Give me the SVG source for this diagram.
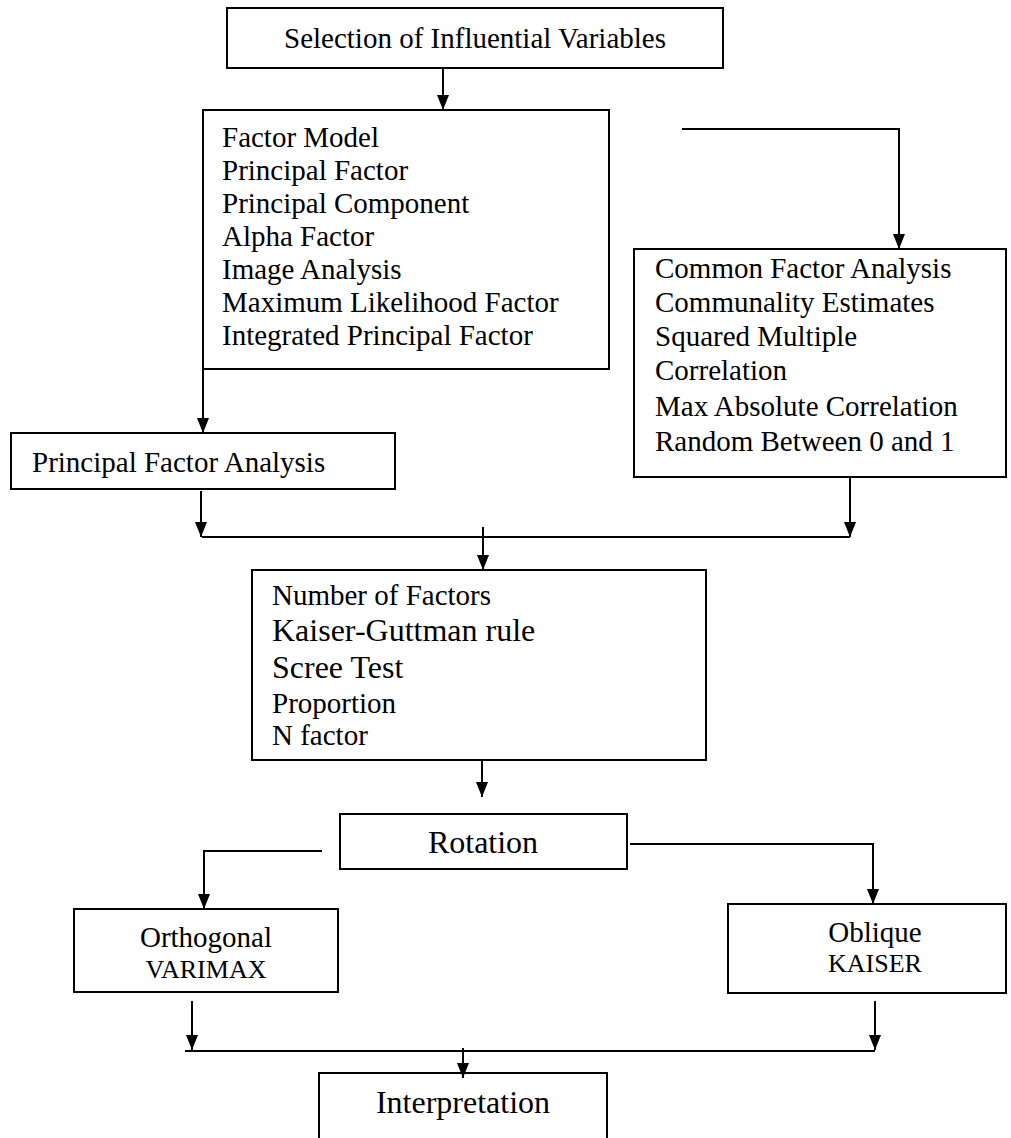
<svg xmlns="http://www.w3.org/2000/svg" width="1011" height="1138" viewBox="0 0 1011 1138">
<style>
.box{fill:#fff;stroke:#000;stroke-width:2}
.ln{fill:none;stroke:#000;stroke-width:2}
.ar{fill:none;stroke:#000;stroke-width:2;marker-end:url(#ah)}
text{font-family:"Liberation Serif","Times New Roman",serif;font-size:29px;fill:#000}
.c{text-anchor:middle}
.big{font-size:32px}
.sm{font-size:26px}
</style>
<defs>
<marker id="ah" markerUnits="userSpaceOnUse" viewBox="0 0 15 12" refX="15" refY="6" markerWidth="15" markerHeight="12" orient="auto">
<path d="M0,0 L15,6 L0,12 z" fill="#000"/>
</marker>
</defs>
<rect width="1011" height="1138" fill="#fff"/>
<g id="connectors">
<line class="ar" x1="443" y1="68" x2="443" y2="110"/>
<line class="ar" x1="203" y1="369" x2="203" y2="433"/>
<polyline class="ar" points="682,129 899,129 899,249"/>
<line class="ar" x1="201" y1="491" x2="201" y2="537"/>
<line class="ar" x1="850" y1="478" x2="850" y2="537"/>
<line class="ln" x1="202" y1="537" x2="850" y2="537"/>
<line class="ar" x1="483" y1="527" x2="483" y2="570"/>
<line class="ar" x1="482" y1="750" x2="482" y2="797"/>
<polyline class="ar" points="322,851 204,851 204,909"/>
<polyline class="ar" points="630,844 873,844 873,904"/>
<line class="ar" x1="192" y1="1001" x2="192" y2="1050"/>
<line class="ar" x1="875" y1="1001" x2="875" y2="1050"/>
<line class="ln" x1="185" y1="1051" x2="875" y2="1051"/>
<line class="ar" x1="463" y1="1048" x2="463" y2="1078"/>
</g>
<g id="selection">
<rect class="box" x="227" y="8" width="496" height="60"/>
<text class="c" x="475" y="48">Selection of Influential Variables</text>
</g>
<g id="factor-model">
<rect class="box" x="203" y="110" width="406" height="259"/>
<text x="222" y="147">Factor Model</text>
<text x="222" y="180">Principal Factor</text>
<text x="222" y="213">Principal Component</text>
<text x="222" y="246">Alpha Factor</text>
<text x="222" y="279">Image Analysis</text>
<text x="222" y="312">Maximum Likelihood Factor</text>
<text x="222" y="345">Integrated Principal Factor</text>
</g>
<g id="common-factor">
<rect class="box" x="634" y="249" width="372" height="228"/>
<text x="655" y="278">Common Factor Analysis</text>
<text x="655" y="312">Communality Estimates</text>
<text x="655" y="346">Squared Multiple</text>
<text x="655" y="380">Correlation</text>
<text x="655" y="416">Max Absolute Correlation</text>
<text x="655" y="451">Random Between 0 and 1</text>
</g>
<g id="principal-factor-analysis">
<rect class="box" x="11" y="433" width="384" height="56"/>
<text x="32" y="472">Principal Factor Analysis</text>
</g>
<g id="number-of-factors">
<rect class="box" x="252" y="570" width="454" height="190"/>
<text x="272" y="605">Number of Factors</text>
<text class="big" x="272" y="641">Kaiser-Guttman rule</text>
<text class="big" x="272" y="678">Scree Test</text>
<text x="272" y="713">Proportion</text>
<text x="272" y="745">N factor</text>
</g>
<g id="rotation">
<rect class="box" x="340" y="814" width="287" height="55"/>
<text class="c big" x="483" y="853">Rotation</text>
</g>
<g id="orthogonal">
<rect class="box" x="74" y="909" width="264" height="83"/>
<text class="c" x="206" y="947">Orthogonal</text>
<text class="c sm" x="206" y="978">VARIMAX</text>
</g>
<g id="oblique">
<rect class="box" x="728" y="904" width="278" height="89"/>
<text class="c" x="875" y="942">Oblique</text>
<text class="c sm" x="875" y="972">KAISER</text>
</g>
<g id="interpretation">
<path class="ln" d="M319,1140 V1073 H607 V1140"/>
<text class="c big" x="463" y="1113">Interpretation</text>
</g>
</svg>
